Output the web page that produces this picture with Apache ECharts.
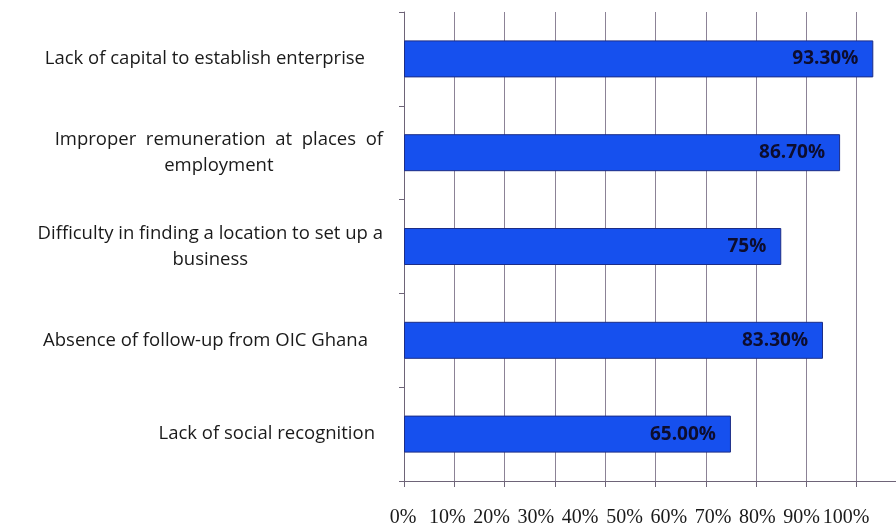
<!DOCTYPE html>
<html>
<head>
<meta charset="utf-8">
<script src="https://cdn.jsdelivr.net/npm/echarts@6/dist/echarts.min.js"></script>
<style>
html,body{margin:0;padding:0;background:#fff;}
#chart{width:896px;height:527px;}
</style>
</head>
<body>
<div id="chart"></div>
<script>
// Data
const categories = [
  'Lack of capital to establish enterprise',
  'Improper  remuneration  at  places  of\nemployment',
  'Difficulty in finding a location to set up a\nbusiness',
  'Absence of follow-up from OIC Ghana',
  'Lack of social recognition'
];
const values = [93.3, 86.7, 75, 83.3, 65.0];
const valueLabels = ['93.30%', '86.70%', '75%', '83.30%', '65.00%'];
const tickLabels = ['0%', '10%', '20%', '30%', '40%', '50%', '60%', '70%', '80%', '90%', '100%'];

// style only: extra right padding of single-line labels
const labelPad = [18, 0, 0, 15, 8];

const chart = echarts.init(document.getElementById('chart'), null, {renderer: 'canvas'});
const gridColor = '#8c8296';

const option = {
  animation: false,
  backgroundColor: '#ffffff',
  grid: [
    {left: 404, top: 12, width: 503, height: 469, containLabel: false, outerBoundsMode: 'none'},
    {left: 403, top: 470, width: 443, height: 11, containLabel: false, outerBoundsMode: 'none'}
  ],
  xAxis: [
    {
      type: 'value', gridIndex: 0, min: 0, max: 100, interval: 10,
      axisLabel: {show: false},
      axisLine: {show: true, lineStyle: {color: '#6e6478', width: 1}},
      axisTick: {show: true, length: 6, lineStyle: {color: '#6e6478'}},
      splitLine: {show: true, lineStyle: {color: gridColor, width: 1}}
    },
    {
      type: 'category', gridIndex: 1, boundaryGap: false, data: tickLabels,
      position: 'bottom',
      axisLine: {show: false}, axisTick: {show: false}, splitLine: {show: false},
      axisLabel: {
        interval: 0, margin: 27,
        fontFamily: '"Liberation Serif", "Times New Roman", serif',
        fontSize: 20, color: '#1a1a1a'
      }
    }
  ],
  yAxis: [
    {
      type: 'category', gridIndex: 0, data: categories, inverse: true,
      axisLine: {show: true, lineStyle: {color: '#6e6478', width: 1}},
      axisTick: {show: true, length: 5, lineStyle: {color: '#6e6478'}},
      splitLine: {show: false},
      axisLabel: {
        margin: 21,
        formatter: function (v, i) {
          const lines = v.split('\n');
          const st = 'p' + i;
          return lines.map(function (l) { return '{' + st + '|' + l + '}'; }).join('\n');
        },
        rich: (function () {
          const r = {};
          labelPad.forEach(function (p, i) {
            r['p' + i] = {
              align: 'center',
              fontFamily: '"Open Sans", "Noto Sans", sans-serif',
              fontSize: 18.5, color: '#1a1a1a', lineHeight: 26,
              padding: [0, p, 0, 0]
            };
          });
          return r;
        })()
      }
    },
    {type: 'value', gridIndex: 1, show: false}
  ],
  series: [
    {
      type: 'bar', xAxisIndex: 0, yAxisIndex: 0,
      data: values,
      barWidth: 37,
      itemStyle: {color: '#1650ee', borderColor: '#1c2d86', borderWidth: 1},
      label: {
        show: true, position: 'insideRight', offset: [-10, 0],
        formatter: function (p) { return valueLabels[p.dataIndex]; },
        fontFamily: '"Open Sans", "Liberation Sans", sans-serif',
        fontWeight: 'bold', fontSize: 19, color: '#0d0d2e'
      }
    }
  ]
};
chart.setOption(option);
</script>
</body>
</html>
